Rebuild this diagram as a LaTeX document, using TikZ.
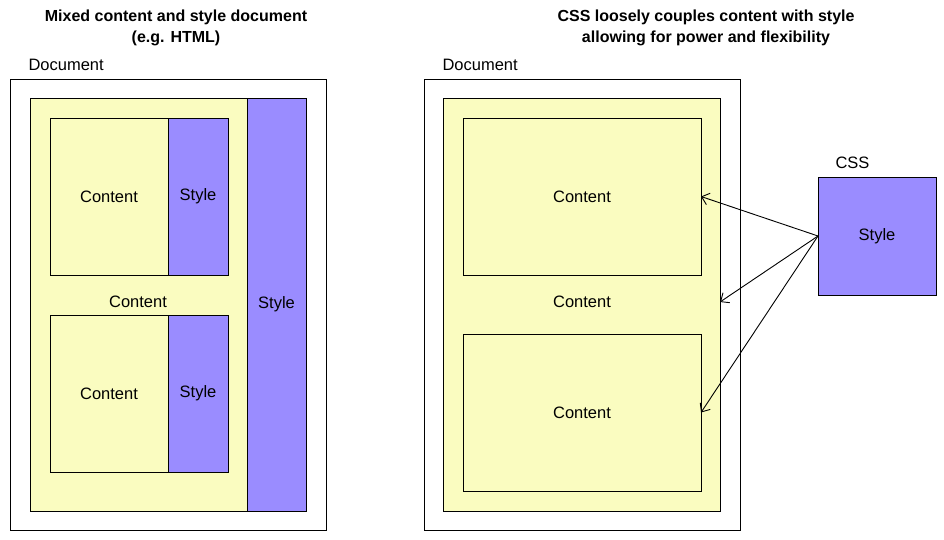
\documentclass[tikz,border=0pt]{standalone}
\usepackage{fontspec}
\setmainfont{Liberation Sans}
\usetikzlibrary{positioning, arrows.meta}
\definecolor{contentyellow}{RGB}{250,252,192}
\definecolor{stylepurple}{RGB}{154,140,255}

\begin{document}
\begin{tikzpicture}[x=1pt, y=-1pt,
        every node/.style={font=\fontsize{16.5}{19}\selectfont},
        box/.style={draw, line width=0.8pt, inner sep=0pt, outer sep=0pt},
        docbox/.style={box, fill=white},
        contentbox/.style={box, fill=contentyellow},
        stylebox/.style={box, fill=stylepurple},
        link/.style={-{Straight Barb[length=7pt, width=12pt]}, line width=0.9pt},
        title/.style={font=\fontsize{16}{21}\selectfont\bfseries, align=center}]
    \useasboundingbox (0,0) rectangle (944,540);

    % left: mixed content and style
    \node[title] (t1) at (176,28) {Mixed content and style document\\(e.g. HTML)};
    \node[docbox, minimum width=316, minimum height=451] (doc1) at (168,304.5) {};
    \node[anchor=base west] (d1) at (25,71) {Document};
    \node[contentbox, minimum width=217, minimum height=413] (y1) at (138.5,304.5) {};
    \node[stylebox, minimum width=59, minimum height=413, right=0 of y1] (s1) {Style};
    \node[contentbox, minimum width=118, minimum height=157] (c1) at (109,196.5) {Content};
    \node[stylebox, minimum width=60, minimum height=157, right=0 of c1] (s2) {Style};
    \node (l1) at (138,302) {Content};
    \node[contentbox, minimum width=118, minimum height=157] (c2) at (109,393.5) {Content};
    \node[stylebox, minimum width=60, minimum height=157, right=0 of c2] (s3) {Style};

    % right: CSS
    \node[title] (t2) at (706,28) {CSS loosely couples content with style\\allowing for power and flexibility};
    \node[docbox, minimum width=316, minimum height=451] (doc2) at (582,304.5) {};
    \node[anchor=base west] (d2) at (439,71) {Document};
    \node[contentbox, minimum width=277, minimum height=413] (y2) at (581.5,304.5) {};
    \node[contentbox, minimum width=238, minimum height=157] (c3) at (582,196.5) {Content};
    \node (l2) at (582,302) {Content};
    \node[contentbox, minimum width=238, minimum height=157] (c4) at (582,412.5) {Content};
    \node[stylebox, minimum width=118, minimum height=118] (css) at (877,236) {Style};
    \node[anchor=base west] (cl) at (832,168) {CSS};
    \coordinate (m2) at (y2.east |- l2);

    \draw[link] (css.west) -- (c3.east);
    \draw[link] (css.west) -- (m2);
    \draw[link] (css.west) -- (c4.east);
\end{tikzpicture}
\end{document}
